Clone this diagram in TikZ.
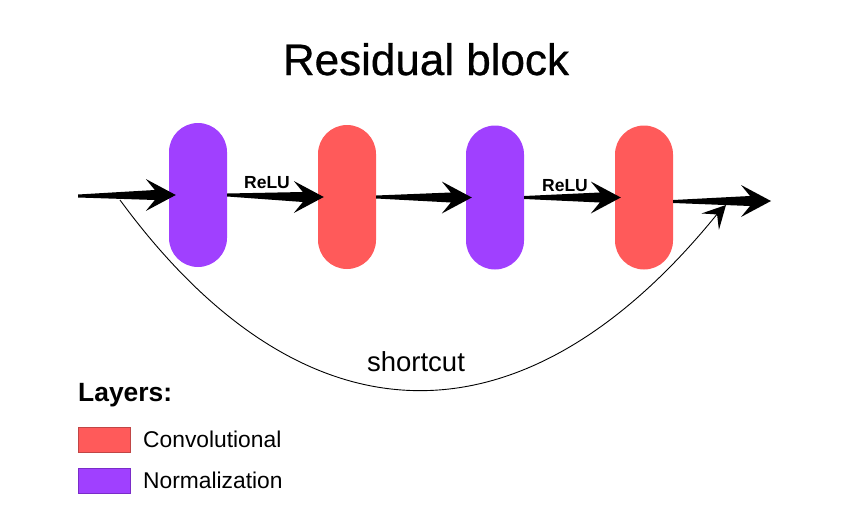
\documentclass[tikz,border=0pt]{standalone}
\usepackage{fontspec}
\setmainfont{Liberation Sans}
\newfontfamily\titlefont[BoldFont={Liberation Sans}, BoldFeatures={FakeBold=0.7}]{Liberation Sans}
\usetikzlibrary{calc,arrows.meta}
\definecolor{normc}{HTML}{A040FF}
\definecolor{convc}{HTML}{FF5A5A}
\definecolor{normb}{HTML}{7A2CC8}
\definecolor{convb}{HTML}{C04646}
\begin{document}
\begin{tikzpicture}[x=1pt,y=-1pt,
  layer/.style={minimum width=58pt,minimum height=144pt,rounded corners=29pt,inner sep=0pt},
  fat/.style={fill=black, to path={let \p1=(\tikztostart), \p2=(\tikztotarget) in
     (\x1,\y1+1.5pt) -- (\x2-21pt,\y2+5pt) -- (\x2-30pt,\y2+16pt) -- (\x2,\y2)
     -- (\x2-30pt,\y2-16pt) -- (\x2-21pt,\y2-5pt) -- (\x1,\y1-1.5pt) -- cycle}},
  lbl/.style={font=\bfseries\fontsize{17.5}{20}\selectfont, anchor=base, inner sep=0pt},
  legtxt/.style={font=\fontsize{22.8}{26}\selectfont, anchor=west, inner sep=0pt},
  legbox/.style={minimum width=52pt, minimum height=25pt, inner sep=0pt, line width=0.8pt}]
\useasboundingbox (0,0) rectangle (850,511);

% title
\node[font=\titlefont\bfseries\fontsize{44}{50}\selectfont, anchor=base, inner sep=0pt] (title) at (426,75) {Residual block};

% layers
\node[layer,fill=normc] (n1) at (198,195) {};
\node[layer,fill=convc] (c1) at (347,197) {};
\node[layer,fill=normc] (n2) at (495,197.5) {};
\node[layer,fill=convc] (c2) at (644,197.5) {};

% connector ends
\coordinate (in) at (78,196);
\coordinate (t1) at ([xshift=7]n1.west);
\coordinate (t2) at ([xshift=6]c1.west);
\coordinate (t3) at ([xshift=6]n2.west);
\coordinate (t4) at ([xshift=6]c2.west);
\coordinate (s5) at ([yshift=-4]c2.east);
\coordinate (out) at (771,201);
\coordinate (split) at (120,200);
\coordinate (join) at (726,205);

% fat arrows
\fill[fat] (in) to (t1);
\fill[fat] (n1.east) to (t2);
\fill[fat] (c1.east) to (t3);
\fill[fat] (n2.east) to (t4);
\fill[fat] (s5) to (out);

% labels
\node[lbl] (relu1) at (267,188) {ReLU};
\node[lbl] (relu2) at (565,191.5) {ReLU};

% shortcut
\draw[line width=0.9pt]
  (split) .. controls (305,452) and (525,452) .. ([shift={(-8pt,-8pt)}]join);
\fill[shift={(join)}, rotate=46.6]
  (0pt,0pt) -- (-23pt,12pt) -- (-13pt,0pt) -- (-23pt,-12pt) -- cycle;
\node[font=\fontsize{27.5}{30}\selectfont, anchor=base, inner sep=0pt] (sc) at (416,371) {shortcut};

% legend
\node[font=\bfseries\fontsize{26.4}{30}\selectfont, anchor=base west, inner sep=0pt] (leg) at (78,401) {Layers:};
\node[legbox, fill=convc, draw=convb] (lc) at (104,439.5) {};
\node[legtxt] (lct) at (143,439.5) {Convolutional};
\node[legbox, fill=normc, draw=normb] (ln) at (104,480.5) {};
\node[legtxt] (lnt) at (143,480.5) {Normalization};
\end{tikzpicture}
\end{document}
